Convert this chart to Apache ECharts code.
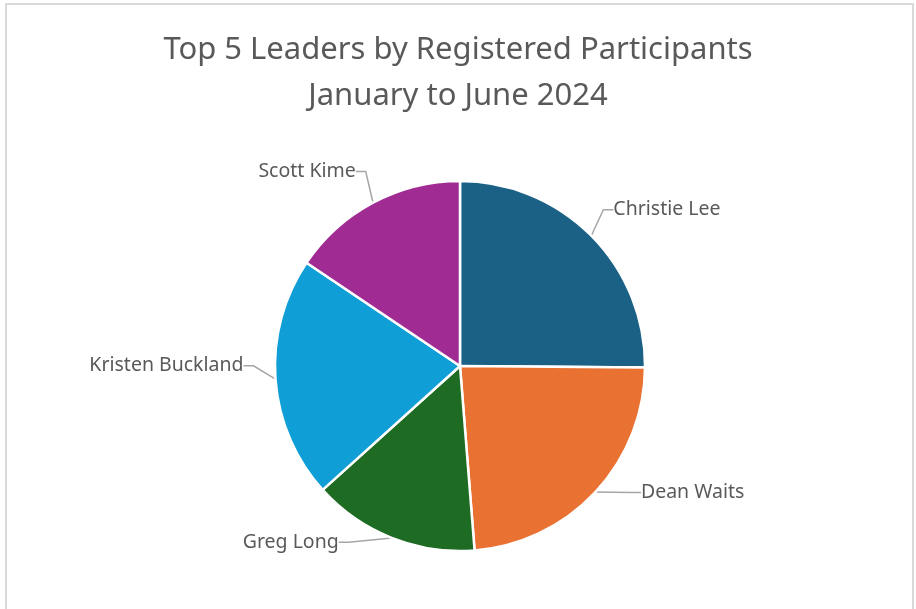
<!DOCTYPE html>
<html><head><meta charset="utf-8">
<script src="https://cdn.jsdelivr.net/npm/echarts@6/dist/echarts.min.js"></script>
<style>html,body{margin:0;padding:0;background:#fff}#c{width:916px;height:609px}</style>
</head><body><div id="c"></div>
<script>
const titleLines = ['Top 5 Leaders by Registered Participants', 'January to June 2024'];
const leaders = ['Christie Lee', 'Dean Waits', 'Greg Long', 'Kristen Buckland', 'Scott Kime'];
const participants = [50, 47, 29, 42, 31];
const colors = ['#1a6185', '#e97132', '#1e6b24', '#0f9ed5', '#a02b93'];
// label nudges (layout only)
const labelShift = [[-10, -9], [13, -16], [-29, -18], [7, -15], [9, -10]];

const chart = echarts.init(document.getElementById('c'));
chart.setOption({
  backgroundColor: '#fff',
  animation: false,
  title: {
    text: titleLines.join('\n'),
    left: 'center', top: 22,
    textStyle: { fontFamily: 'Noto Sans', fontSize: 31, fontWeight: 'normal', color: '#595959', lineHeight: 46 }
  },
  graphic: [{
    type: 'rect', shape: { x: 6, y: 4, width: 907, height: 620 },
    style: { fill: 'none', stroke: '#d9d9d9', lineWidth: 2 }, silent: true
  }],
  series: [{
    type: 'pie',
    center: [460, 366],
    radius: 185,
    startAngle: 90,
    clockwise: true,
    data: leaders.map((n, i) => ({ name: n, value: participants[i], itemStyle: { color: colors[i] } })),
    itemStyle: { borderColor: '#fff', borderWidth: 2.5 },
    label: { show: true, formatter: '{b}', fontFamily: 'Noto Sans', fontSize: 19.5, color: '#595959' },
    labelLine: { show: true, length: 24, length2: 10, lineStyle: { color: '#a6a6a6', width: 1.5 } },
    labelLayout: function (p) {
      const s = labelShift[p.dataIndex];
      const r = p.labelRect;
      return { x: r.x + s[0], y: r.y + s[1], align: 'left', verticalAlign: 'top' };
    }
  }]
});
</script></body></html>
